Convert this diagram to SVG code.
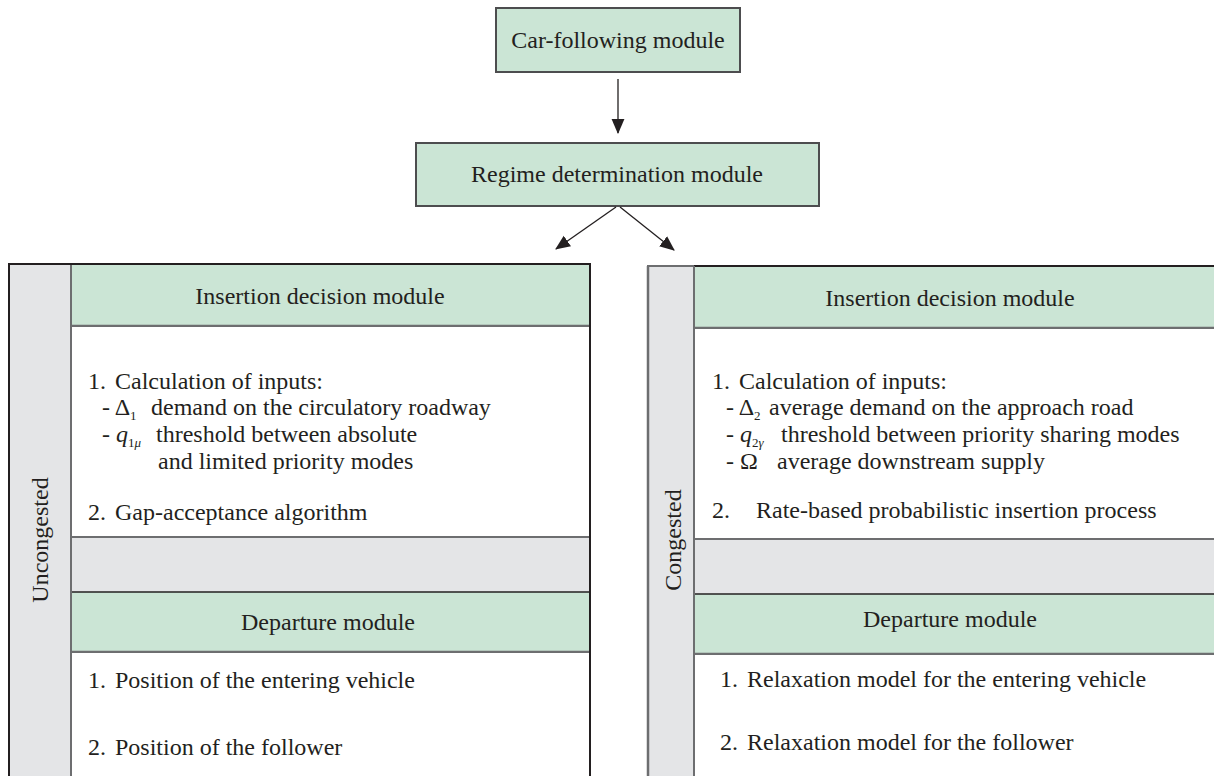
<svg xmlns="http://www.w3.org/2000/svg" width="1214" height="776" viewBox="0 0 1214 776">
<defs>
<style>
.t{font-family:"Liberation Serif","Times New Roman",serif;font-size:24px;fill:#231f20;white-space:pre}
.c{text-anchor:middle}
.hdr{fill:#cbe5d5;stroke:#4d4d4f;stroke-width:2}
.side{fill:#e4e5e7;stroke:#231f20;stroke-width:2}
.conn{stroke:#231f20;stroke-width:1.3;fill:none}
.it{font-style:italic}
.sub{font-size:13px}
</style>
<marker id="ah2" viewBox="0 0 14 14" refX="13" refY="7" markerWidth="15" markerHeight="15" markerUnits="userSpaceOnUse" orient="auto">
<path d="M0,1 L14,7 L0,13 z" fill="#231f20"/>
</marker>
</defs>
<rect width="1214" height="776" fill="#ffffff"/>

<g id="car-following">
<rect class="hdr" x="496" y="8" width="244" height="64"/>
<text class="t c" x="618" y="48">Car-following module</text>
</g>

<g id="regime">
<rect class="hdr" x="416" y="143" width="403" height="63"/>
<text class="t c" x="617" y="182">Regime determination module</text>
</g>

<g id="connectors">
<line class="conn" x1="618" y1="79" x2="618" y2="133" marker-end="url(#ah2)"/>
<line class="conn" x1="616" y1="207" x2="556" y2="249" marker-end="url(#ah2)"/>
<line class="conn" x1="620" y1="207" x2="674" y2="250" marker-end="url(#ah2)"/>
</g>

<g id="uncongested">
<rect class="side" x="9" y="264" width="581" height="530"/>
<text class="t c" transform="translate(48,540) rotate(-90)">Uncongested</text>
<g id="insertion-left">
<rect x="71" y="264" width="519" height="62" fill="#cbe5d5"/>
<line x1="71" y1="326" x2="590" y2="326" stroke="#6d6e70" stroke-width="2.5"/>
<rect x="71" y="327" width="519" height="210" fill="#ffffff"/>
<line x1="71" y1="537" x2="590" y2="537" stroke="#6d6e70" stroke-width="2"/>
<text class="t c" x="320" y="304">Insertion decision module</text>
<text class="t" x="88" y="389">1. <tspan dx="3">Calculation of inputs:</tspan></text>
<text class="t" x="102" y="415">- Δ<tspan class="sub" dy="5">1</tspan><tspan dy="-5" x="151">demand on the circulatory roadway</tspan></text>
<text class="t" x="102" y="442">- <tspan class="it">q</tspan><tspan class="sub" dy="5">1</tspan><tspan class="sub it">μ</tspan><tspan dy="-5" x="156">threshold between absolute</tspan></text>
<text class="t" x="158" y="469">and limited priority modes</text>
<text class="t" x="88" y="520">2. <tspan dx="3">Gap-acceptance algorithm</tspan></text>
</g>
<g id="departure-left">
<rect x="71" y="592" width="519" height="60" fill="#cbe5d5"/>
<line x1="71" y1="592" x2="590" y2="592" stroke="#231f20" stroke-width="1.5"/>
<line x1="71" y1="652" x2="590" y2="652" stroke="#6d6e70" stroke-width="2.5"/>
<rect x="71" y="653" width="519" height="140" fill="#ffffff"/>
<text class="t c" x="328" y="630">Departure module</text>
<text class="t" x="88" y="688">1. <tspan dx="3">Position of the entering vehicle</tspan></text>
<text class="t" x="88" y="755">2. <tspan dx="3">Position of the follower</tspan></text>
</g>
<line x1="71" y1="264" x2="71" y2="776" stroke="#6d6e70" stroke-width="2"/>
<rect x="9" y="264" width="581" height="530" fill="none" stroke="#231f20" stroke-width="2"/>
</g>

<g id="congested">
<rect class="side" x="648" y="266" width="580" height="530" style="stroke:#6d6e70"/>
<text class="t c" transform="translate(681,540) rotate(-90)">Congested</text>
<g id="insertion-right">
<rect x="694" y="266" width="530" height="62" fill="#cbe5d5"/>
<line x1="694" y1="266" x2="1214" y2="266" stroke="#231f20" stroke-width="2"/>
<line x1="694" y1="328" x2="1214" y2="328" stroke="#6d6e70" stroke-width="2.5"/>
<rect x="694" y="329" width="530" height="210" fill="#ffffff"/>
<line x1="694" y1="539" x2="1214" y2="539" stroke="#6d6e70" stroke-width="2"/>
<text class="t c" x="950" y="306">Insertion decision module</text>
<text class="t" x="712" y="389">1. <tspan dx="3">Calculation of inputs:</tspan></text>
<text class="t" x="726" y="415">- Δ<tspan class="sub" dy="5">2</tspan><tspan dy="-5" x="769">average demand on the approach road</tspan></text>
<text class="t" x="726" y="442">- <tspan class="it">q</tspan><tspan class="sub" dy="5">2</tspan><tspan class="sub it">γ</tspan><tspan dy="-5" x="781">threshold between priority sharing modes</tspan></text>
<text class="t" x="726" y="469">- Ω<tspan x="777">average downstream supply</tspan></text>
<text class="t" x="712" y="518">2.<tspan x="756">Rate-based probabilistic insertion process</tspan></text>
</g>
<g id="departure-right">
<rect x="694" y="594" width="530" height="60" fill="#cbe5d5"/>
<line x1="694" y1="594" x2="1214" y2="594" stroke="#231f20" stroke-width="1.5"/>
<line x1="694" y1="654" x2="1214" y2="654" stroke="#6d6e70" stroke-width="2.5"/>
<rect x="694" y="655" width="530" height="140" fill="#ffffff"/>
<text class="t c" x="950" y="627">Departure module</text>
<text class="t" x="720" y="687">1. <tspan dx="3">Relaxation model for the entering vehicle</tspan></text>
<text class="t" x="720" y="750">2. <tspan dx="3">Relaxation model for the follower</tspan></text>
</g>
<line x1="694" y1="266" x2="694" y2="776" stroke="#6d6e70" stroke-width="2"/>
<line x1="648" y1="266" x2="648" y2="776" stroke="#6d6e70" stroke-width="2.5"/>
</g>
</svg>
